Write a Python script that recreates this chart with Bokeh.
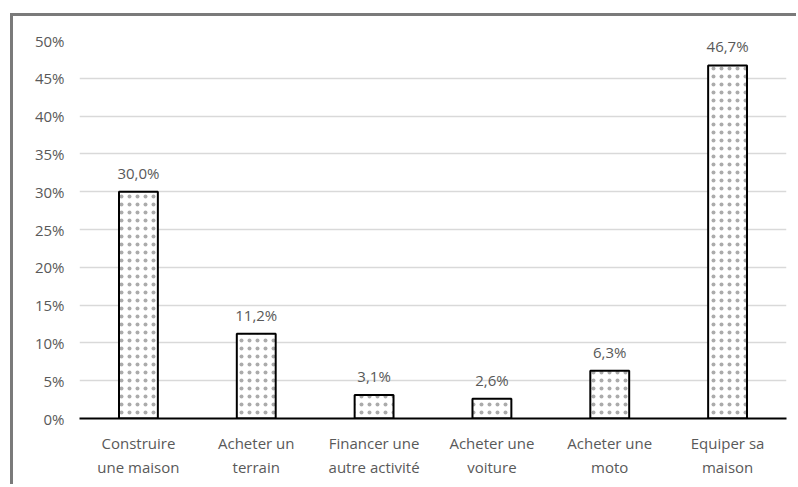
from bokeh.plotting import figure
from bokeh.models import ColumnDataSource, NumeralTickFormatter, FixedTicker, Range1d
from bokeh.core.properties import value
from bokeh.embed import file_html
from bokeh.resources import INLINE

categories = ["Construire\nune maison", "Acheter un\nterrain", "Financer une\nautre activité",
              "Acheter une\nvoiture", "Acheter une\nmoto", "Equiper sa\nmaison"]
values = [0.300, 0.112, 0.031, 0.026, 0.063, 0.467]
labels = ["30,0%", "11,2%", "3,1%", "2,6%", "6,3%", "46,7%"]
y_ticks = [0, 0.05, 0.10, 0.15, 0.20, 0.25, 0.30, 0.35, 0.40, 0.45, 0.50]

FONT = "Open Sans"
src = ColumnDataSource(dict(cat=categories, val=values, lab=labels))

p = figure(x_range=categories, y_range=Range1d(0, 0.5), width=786, height=471,
           output_backend="svg", toolbar_location=None,
           min_border_left=66, min_border_right=13, min_border_top=24, min_border_bottom=69)
p.outline_line_color = None
p.styles = {"margin-left": "10px", "margin-top": "13px",
            "border-left": "3px solid #7a7a7a", "border-top": "3px solid #7a7a7a"}

p.vbar(x="cat", top="val", width=0.33, source=src, fill_color="white",
       line_color="black", line_width=2,
       hatch_pattern="dot", hatch_color="#ababab", hatch_scale=8, hatch_weight=0.5)

p.text(x="cat", y="val", text="lab", source=src, text_align="center",
       text_baseline="bottom", y_offset=-9, text_font=value(FONT),
       text_font_size="15px", text_color="#595959")

p.yaxis.ticker = FixedTicker(ticks=y_ticks)
p.yaxis.formatter = NumeralTickFormatter(format="0%")
p.yaxis.axis_line_color = None
p.yaxis.major_tick_line_color = None
p.yaxis.minor_tick_line_color = None
p.yaxis.major_label_text_font = FONT
p.yaxis.major_label_text_font_size = "15px"
p.yaxis.major_label_text_color = "#595959"
p.yaxis.major_label_standoff = 9

p.xaxis.axis_line_color = "black"
p.xaxis.axis_line_width = 2
p.xaxis.major_tick_line_color = None
p.xaxis.minor_tick_line_color = None
p.xaxis.major_label_text_font = FONT
p.xaxis.major_label_text_font_size = "15px"
p.xaxis.major_label_text_color = "#595959"
p.xaxis.major_label_standoff = 8

p.xgrid.grid_line_color = None
p.ygrid.grid_line_color = "#d9d9d9"
p.ygrid.grid_line_width = 1.5
p.x_range.range_padding = 0

open("out.html", "w").write(file_html(p, INLINE))
